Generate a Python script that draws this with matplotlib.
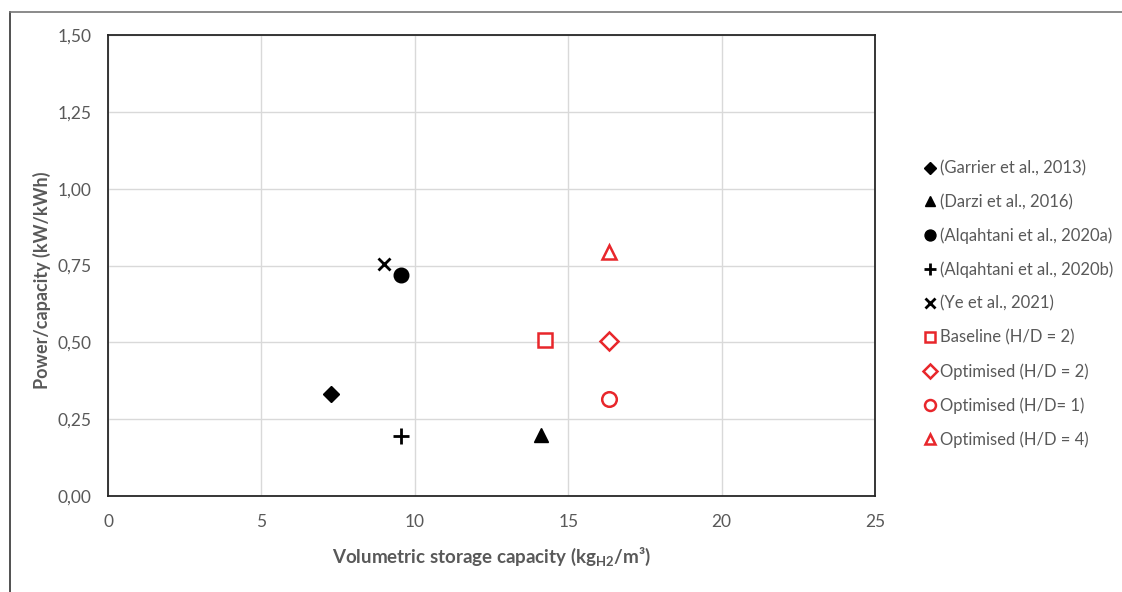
import matplotlib.pyplot as plt
from matplotlib.lines import Line2D

plt.rcParams['font.family'] = ['Lato', 'DejaVu Sans']
plt.rcParams['mathtext.fontset'] = 'custom'
plt.rcParams['mathtext.rm'] = 'Lato:bold'

# literature data (black, filled)
lit_labels = ['(Garrier et al., 2013)', '(Darzi et al., 2016)', '(Alqahtani et al., 2020a)',
              '(Alqahtani et al., 2020b)', '(Ye et al., 2021)']
lit_x = [7.27, 14.11, 9.55, 9.55, 9.0]
lit_y = [0.332, 0.200, 0.718, 0.195, 0.755]
lit_markers = ['D', '^', 'o', '+', 'x']

# this work (red, open)
own_labels = ['Baseline (H/D = 2)', 'Optimised (H/D = 2)', 'Optimised (H/D= 1)', 'Optimised (H/D = 4)']
own_x = [14.24, 16.33, 16.33, 16.33]
own_y = [0.508, 0.503, 0.316, 0.795]
own_markers = ['s', 'D', 'o', '^']

x_ticks = [0, 5, 10, 15, 20, 25]
y_ticks = [0.0, 0.25, 0.5, 0.75, 1.0, 1.25, 1.5]

red = '#e8262b'
grey = '#595959'

fig = plt.figure(figsize=(11.22, 5.92), dpi=100)
ax = fig.add_axes([108 / 1122, 1 - 496 / 592, (875 - 108) / 1122, (496 - 35) / 592])

sizes = {'D': 8.5, '^': 9.5, 'o': 10.5, '+': 12, 'x': 9, 's': 10}
for lab, x, y, m in zip(lit_labels, lit_x, lit_y, lit_markers):
    ax.plot(x, y, linestyle='none', marker=m, color='black', markersize=sizes[m],
            markeredgewidth=2 if m in '+x' else 1, label=lab, zorder=3)
for lab, x, y, m in zip(own_labels, own_x, own_y, own_markers):
    ax.plot(x, y, linestyle='none', marker=m, markerfacecolor='white', markeredgecolor=red,
            markersize=sizes[m] + (1 if m == 'D' else 0), markeredgewidth=1.8, label=lab, zorder=3)

ax.set_xlim(0, 25)
ax.set_ylim(0, 1.5)
ax.set_xticks(x_ticks)
ax.set_yticks(y_ticks)
ax.set_yticklabels([f'{v:.2f}'.replace('.', ',') for v in y_ticks])
ax.grid(True, color='#d9d9d9', linewidth=1)
ax.set_axisbelow(True)
ax.tick_params(length=0, labelsize=12.5, colors=grey)
ax.tick_params(axis='y', pad=12)
ax.tick_params(axis='x', pad=13)
for s in ax.spines.values():
    s.set_color('#262626')
    s.set_linewidth(1.3)

ax.set_xlabel(r'Volumetric storage capacity (kg$_{\mathrm{H2}}$/m³)', fontsize=13.5,
              fontweight='bold', color=grey, labelpad=11)
ax.set_ylabel('Power/capacity (kW/kWh)', fontsize=13, fontweight='bold', color=grey)
ax.yaxis.set_label_coords(-0.074, 0.469)

leg = ax.legend(loc='upper left', bbox_to_anchor=(917 / 1122, 1 - 152 / 592),
                bbox_transform=fig.transFigure, frameon=False, fontsize=12, markerscale=0.75,
                handlelength=0.6, handletextpad=0.25, labelspacing=1.05, borderpad=0)
for t in leg.get_texts():
    t.set_color(grey)

fig.add_artist(Line2D([10 / 1122, 10 / 1122], [0, 1 - 12 / 592], color='#333333', linewidth=1.2))
fig.add_artist(Line2D([10 / 1122, 1], [1 - 12 / 592, 1 - 12 / 592], color='#777777', linewidth=1.2))

fig.savefig('out.png', dpi=100)
